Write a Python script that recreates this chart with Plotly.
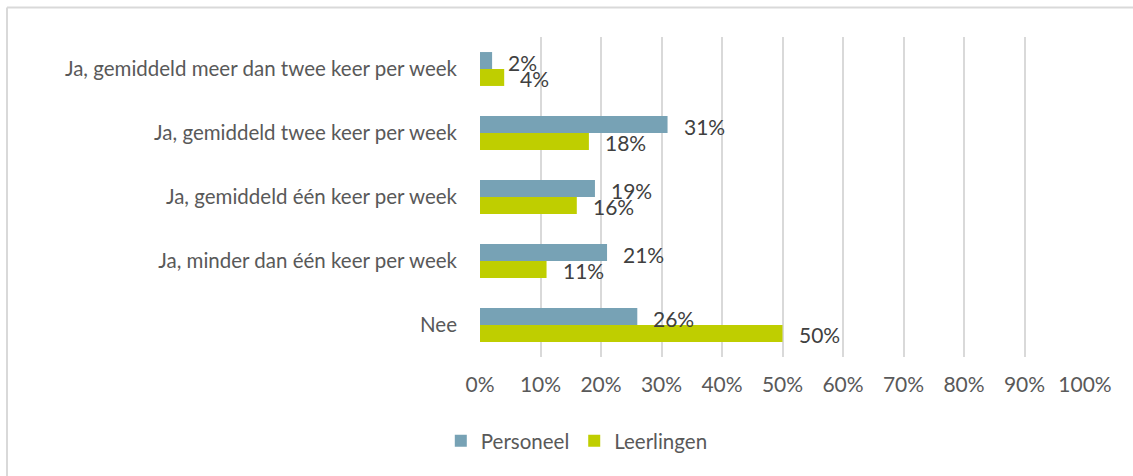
import plotly.graph_objects as go

categories = [
    "Ja, gemiddeld meer dan twee keer per week",
    "Ja, gemiddeld twee keer per week",
    "Ja, gemiddeld één keer per week",
    "Ja, minder dan één keer per week",
    "Nee",
]
personeel = [2, 31, 19, 21, 26]
leerlingen = [4, 18, 16, 11, 50]
x_ticks = list(range(0, 101, 10))
x_tick_labels = [f"{v}%" for v in x_ticks]

BLUE = "#77A2B5"
GREEN = "#BFCE00"
TEXT = "#595959"
LABEL = "#404040"
GRID = "#D9D9D9"
FONT = "Lato"
CAT_SIZE = 20.5
NUM_SIZE = 21

fig = go.Figure()
fig.add_trace(go.Bar(y=categories, x=personeel, name="Personeel", orientation="h",
                     marker=dict(color=BLUE, line_width=0)))
fig.add_trace(go.Bar(y=categories, x=leerlingen, name="Leerlingen", orientation="h",
                     marker=dict(color=GREEN, line_width=0)))

# value labels just past the end of each bar
annotations = []
for cat, p, l in zip(categories, personeel, leerlingen):
    annotations.append(dict(x=p, y=cat, text=f"{p}%", showarrow=False, xanchor="left",
                            xshift=14, yshift=7, font=dict(size=NUM_SIZE, color=LABEL, family=FONT)))
    annotations.append(dict(x=l, y=cat, text=f"{l}%", showarrow=False, xanchor="left",
                            xshift=14, yshift=-9, font=dict(size=NUM_SIZE, color=LABEL, family=FONT)))

# outer frame (top and left edges)
shapes = [
    dict(type="line", xref="paper", yref="paper", x0=-0.7818, x1=1.08, y0=1.0922, y1=1.0922,
         line=dict(color=GRID, width=2)),
    dict(type="line", xref="paper", yref="paper", x0=-0.7818, x1=-0.7818, y0=1.0922, y1=-0.38,
         line=dict(color=GRID, width=2)),
]

fig.update_layout(
    width=1133, height=476,
    margin=dict(l=480, r=48, t=37, b=119),
    paper_bgcolor="white", plot_bgcolor="white",
    barmode="group", bargap=0.47, bargroupgap=0,
    font=dict(family=FONT, size=CAT_SIZE, color=TEXT),
    xaxis=dict(range=[0, 100], tickvals=x_ticks, ticktext=x_tick_labels,
               showgrid=True, gridcolor=GRID, gridwidth=1.5, zeroline=False,
               showline=False, ticks="", ticklabelstandoff=13,
               tickfont=dict(size=NUM_SIZE, color=TEXT, family=FONT)),
    yaxis=dict(autorange="reversed", showgrid=False, zeroline=False, showline=False,
               ticks="", ticklabelstandoff=22,
               tickfont=dict(size=CAT_SIZE, color=TEXT, family=FONT)),
    legend=dict(orientation="h", x=0.16, xanchor="center", y=-0.2, yanchor="top",
                itemwidth=30, font=dict(size=CAT_SIZE, color=TEXT, family=FONT),
                traceorder="normal"),
    annotations=annotations,
    shapes=shapes,
    showlegend=True,
)

fig.write_html("out.html")
